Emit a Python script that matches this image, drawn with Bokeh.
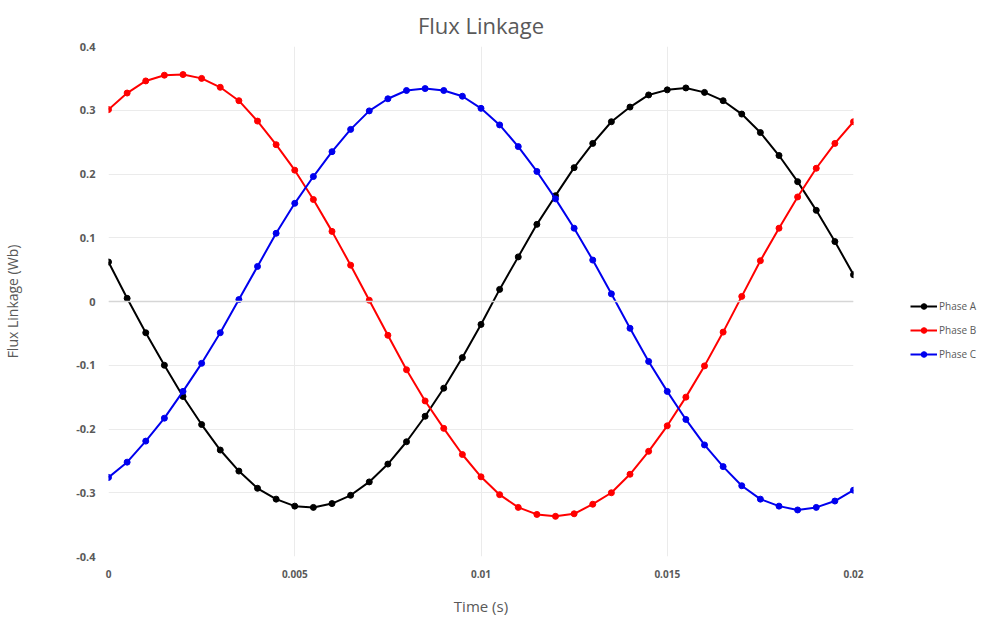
from bokeh.plotting import figure
from bokeh.models import FixedTicker, Legend, LegendItem, Span
from bokeh.embed import file_html
from bokeh.resources import INLINE

time_s = [0.0, 0.0005, 0.001, 0.0015, 0.002, 0.0025, 0.003, 0.0035, 0.004, 0.0045,
          0.005, 0.0055, 0.006, 0.0065, 0.007, 0.0075, 0.008, 0.0085, 0.009, 0.0095,
          0.01, 0.0105, 0.011, 0.0115, 0.012, 0.0125, 0.013, 0.0135, 0.014, 0.0145,
          0.015, 0.0155, 0.016, 0.0165, 0.017, 0.0175, 0.018, 0.0185, 0.019, 0.0195, 0.02]

phase_a = [0.062, 0.005, -0.049, -0.100, -0.149, -0.193, -0.233, -0.266, -0.293, -0.310,
           -0.321, -0.323, -0.317, -0.304, -0.283, -0.255, -0.220, -0.180, -0.136, -0.088,
           -0.036, 0.019, 0.070, 0.121, 0.166, 0.210, 0.248, 0.282, 0.305, 0.324,
           0.332, 0.335, 0.328, 0.315, 0.294, 0.265, 0.229, 0.188, 0.143, 0.094, 0.042]

phase_b = [0.301, 0.327, 0.346, 0.355, 0.356, 0.350, 0.336, 0.315, 0.283, 0.246,
           0.206, 0.160, 0.110, 0.057, 0.002, -0.053, -0.107, -0.156, -0.199, -0.240,
           -0.275, -0.303, -0.323, -0.334, -0.337, -0.333, -0.318, -0.300, -0.271, -0.235,
           -0.195, -0.150, -0.101, -0.048, 0.008, 0.064, 0.115, 0.164, 0.209, 0.248, 0.282]

phase_c = [-0.276, -0.252, -0.219, -0.183, -0.141, -0.097, -0.049, 0.003, 0.055, 0.107,
           0.154, 0.196, 0.235, 0.270, 0.299, 0.318, 0.331, 0.334, 0.331, 0.322,
           0.303, 0.277, 0.243, 0.204, 0.161, 0.115, 0.065, 0.012, -0.042, -0.094,
           -0.141, -0.185, -0.225, -0.259, -0.289, -0.310, -0.321, -0.327, -0.323, -0.313, -0.296]

series_names = ["Phase A", "Phase B", "Phase C"]
series_colors = ["#000000", "#ff0000", "#0000ee"]

x_ticks = [0, 0.005, 0.01, 0.015, 0.02]
x_tick_labels = ["0", "0.005", "0.01", "0.015", "0.02"]
y_ticks = [-0.4, -0.3, -0.2, -0.1, 0, 0.1, 0.2, 0.3, 0.4]
y_tick_labels = ["-0.4", "-0.3", "-0.2", "-0.1", "0", "0.1", "0.2", "0.3", "0.4"]

FONT = "Open Sans"
GREY = "#595959"

p = figure(frame_width=745, frame_height=510, x_range=(0, 0.02), y_range=(-0.4, 0.4),
           output_backend="svg", toolbar_location=None,
           min_border_left=0, min_border_right=0, min_border_top=0, min_border_bottom=0,
           title="Flux Linkage")

p.title.align = "center"
p.title.text_font = FONT
p.title.text_font_size = "22px"
p.title.text_font_style = "normal"
p.title.text_color = GREY
p.title.standoff = 14

p.outline_line_color = None
p.background_fill_color = "white"
p.border_fill_color = "white"

for ax in (p.xaxis[0], p.yaxis[0]):
    ax.axis_line_color = None
    ax.major_tick_line_color = None
    ax.minor_tick_line_color = None
    ax.major_tick_out = 0
    ax.major_tick_in = 0
    ax.minor_tick_out = 0
    ax.minor_tick_in = 0
    ax.major_label_text_color = GREY
    ax.major_label_text_font = FONT
    ax.major_label_text_font_style = "bold"
    ax.axis_label_text_color = GREY
    ax.axis_label_text_font = FONT
    ax.axis_label_text_font_style = "normal"

p.xaxis.ticker = FixedTicker(ticks=x_ticks)
p.xaxis.major_label_overrides = dict(zip(x_ticks, x_tick_labels))
p.xaxis.major_label_text_font_size = "10px"
p.xaxis.major_label_standoff = 13
p.xaxis.axis_label = "Time (s)"
p.xaxis.axis_label_text_font_size = "15px"
p.xaxis.axis_label_standoff = 15

p.yaxis.ticker = FixedTicker(ticks=y_ticks)
p.yaxis.major_label_overrides = dict(zip(y_ticks, y_tick_labels))
p.yaxis.major_label_text_font_size = "11px"
p.yaxis.major_label_standoff = 13
p.yaxis.axis_label = "Flux Linkage (Wb)"
p.yaxis.axis_label_text_font_size = "14px"
p.yaxis.axis_label_standoff = 51

p.xgrid.ticker = FixedTicker(ticks=x_ticks)
p.ygrid.ticker = FixedTicker(ticks=y_ticks)
p.grid.grid_line_color = "#ebebeb"
p.grid.grid_line_width = 1

p.add_layout(Span(location=0, dimension="width", line_color="#d6d6d6", line_width=1.5))

items = []
for name, col, ys in zip(series_names, series_colors, [phase_a, phase_b, phase_c]):
    ln = p.line(time_s, ys, line_color=col, line_width=2)
    sc = p.scatter(time_s, ys, size=6, fill_color=col, line_color=col)
    items.append(LegendItem(label=name, renderers=[ln, sc]))

legend = Legend(items=items, location=(57, 195), padding=0, margin=0,
                border_line_alpha=0, background_fill_alpha=0,
                glyph_width=27, glyph_height=14, label_height=14, spacing=10,
                label_standoff=2, label_text_font=FONT, label_text_font_size="10px",
                label_text_color=GREY)
p.add_layout(legend, "right")

open("out.html", "w").write(file_html(p, INLINE))
